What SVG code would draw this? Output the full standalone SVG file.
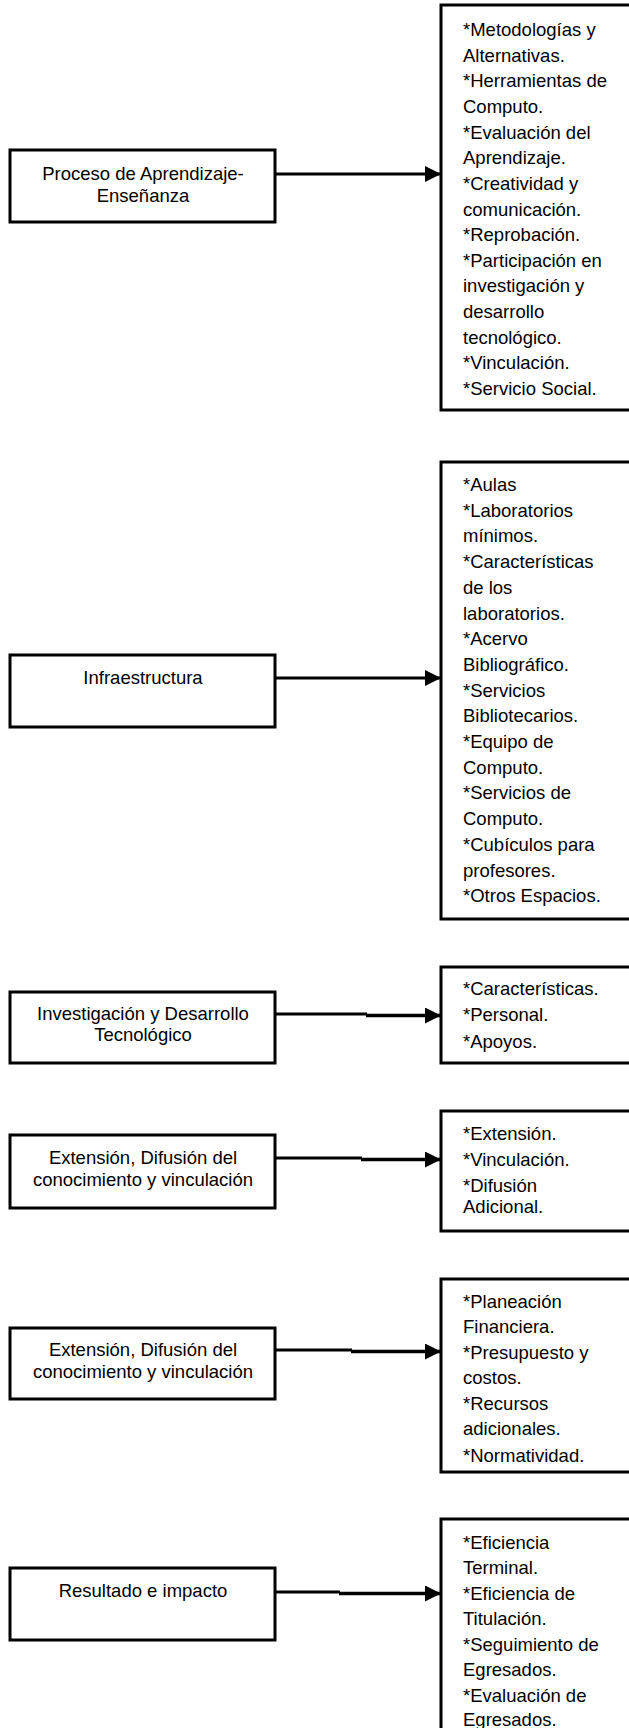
<svg xmlns="http://www.w3.org/2000/svg" width="629" height="1728" viewBox="0 0 629 1728">
<defs>
<style>
.box{fill:#fff;stroke:#000;stroke-width:3}
.t{font-family:"Liberation Sans",Arial,sans-serif;font-size:18.5px;fill:#000}
.c{text-anchor:middle}
.ln{stroke:#000;stroke-width:3;fill:none}
.ln2{stroke:#000;stroke-width:3.5;fill:none}
</style>
<marker id="ah" markerUnits="userSpaceOnUse" markerWidth="16" markerHeight="16" refX="16" refY="8" orient="auto">
<path d="M0,0 L16,8 L0,16 z" fill="#000"/>
</marker>
</defs>
<rect width="629" height="1728" fill="#fff"/>

<g id="connectors">
<line class="ln" x1="275" y1="174" x2="441" y2="174" marker-end="url(#ah)"/>
<line class="ln" x1="275" y1="678" x2="441" y2="678" marker-end="url(#ah)"/>
<line class="ln" x1="275" y1="1014" x2="367" y2="1014"/>
<line class="ln2" x1="366" y1="1015.5" x2="441" y2="1015.5" marker-end="url(#ah)"/>
<line class="ln" x1="275" y1="1158" x2="362" y2="1158"/>
<line class="ln2" x1="361" y1="1159.5" x2="441" y2="1159.5" marker-end="url(#ah)"/>
<line class="ln" x1="275" y1="1350" x2="352" y2="1350"/>
<line class="ln2" x1="351" y1="1351.5" x2="441" y2="1351.5" marker-end="url(#ah)"/>
<line class="ln" x1="275" y1="1592" x2="340" y2="1592"/>
<line class="ln2" x1="339" y1="1593.5" x2="441" y2="1593.5" marker-end="url(#ah)"/>
</g>

<g id="n1">
<rect class="box" x="10" y="150" width="265" height="72"/>
<text class="t c" x="143" y="180">Proceso de Aprendizaje-</text>
<text class="t c" x="143" y="202">Enseñanza</text>
</g>
<g id="r1">
<rect class="box" x="441" y="5" width="200" height="405"/>
<text class="t" x="463" y="36">*Metodologías y</text>
<text class="t" x="463" y="61.6">Alternativas.</text>
<text class="t" x="463" y="87.3">*Herramientas de</text>
<text class="t" x="463" y="112.9">Computo.</text>
<text class="t" x="463" y="138.6">*Evaluación del</text>
<text class="t" x="463" y="164.2">Aprendizaje.</text>
<text class="t" x="463" y="189.8">*Creatividad y</text>
<text class="t" x="463" y="215.5">comunicación.</text>
<text class="t" x="463" y="241.1">*Reprobación.</text>
<text class="t" x="463" y="266.8">*Participación en</text>
<text class="t" x="463" y="292.4">investigación y</text>
<text class="t" x="463" y="318">desarrollo</text>
<text class="t" x="463" y="343.7">tecnológico.</text>
<text class="t" x="463" y="369.3">*Vinculación.</text>
<text class="t" x="463" y="395">*Servicio Social.</text>
</g>

<g id="n2">
<rect class="box" x="10" y="655" width="265" height="72"/>
<text class="t c" x="143" y="684">Infraestructura</text>
</g>
<g id="r2">
<rect class="box" x="441" y="462" width="200" height="457"/>
<text class="t" x="463" y="491">*Aulas</text>
<text class="t" x="463" y="516.7">*Laboratorios</text>
<text class="t" x="463" y="542.4">mínimos.</text>
<text class="t" x="463" y="568.1">*Características</text>
<text class="t" x="463" y="593.8">de los</text>
<text class="t" x="463" y="619.5">laboratorios.</text>
<text class="t" x="463" y="645.2">*Acervo</text>
<text class="t" x="463" y="670.9">Bibliográfico.</text>
<text class="t" x="463" y="696.6">*Servicios</text>
<text class="t" x="463" y="722.3">Bibliotecarios.</text>
<text class="t" x="463" y="748">*Equipo de</text>
<text class="t" x="463" y="773.7">Computo.</text>
<text class="t" x="463" y="799.4">*Servicios de</text>
<text class="t" x="463" y="825.1">Computo.</text>
<text class="t" x="463" y="850.8">*Cubículos para</text>
<text class="t" x="463" y="876.5">profesores.</text>
<text class="t" x="463" y="902">*Otros Espacios.</text>
</g>

<g id="n3">
<rect class="box" x="10" y="992" width="265" height="71"/>
<text class="t c" x="143" y="1019.5">Investigación y Desarrollo</text>
<text class="t c" x="143" y="1041">Tecnológico</text>
</g>
<g id="r3">
<rect class="box" x="441" y="967" width="200" height="96"/>
<text class="t" x="463" y="994.5">*Características.</text>
<text class="t" x="463" y="1021">*Personal.</text>
<text class="t" x="463" y="1047.5">*Apoyos.</text>
</g>

<g id="n4">
<rect class="box" x="10" y="1135" width="265" height="73"/>
<text class="t c" x="143" y="1163.5">Extensión, Difusión del</text>
<text class="t c" x="143" y="1185.5">conocimiento y vinculación</text>
</g>
<g id="r4">
<rect class="box" x="441" y="1111" width="200" height="120"/>
<text class="t" x="463" y="1139.5">*Extensión.</text>
<text class="t" x="463" y="1165.5">*Vinculación.</text>
<text class="t" x="463" y="1191.5">*Difusión</text>
<text class="t" x="463" y="1212.5">Adicional.</text>
</g>

<g id="n5">
<rect class="box" x="10" y="1328" width="265" height="71"/>
<text class="t c" x="143" y="1355.5">Extensión, Difusión del</text>
<text class="t c" x="143" y="1377.5">conocimiento y vinculación</text>
</g>
<g id="r5">
<rect class="box" x="441" y="1279" width="200" height="193"/>
<text class="t" x="463" y="1307.5">*Planeación</text>
<text class="t" x="463" y="1333">Financiera.</text>
<text class="t" x="463" y="1358.5">*Presupuesto y</text>
<text class="t" x="463" y="1384">costos.</text>
<text class="t" x="463" y="1409.5">*Recursos</text>
<text class="t" x="463" y="1435">adicionales.</text>
<text class="t" x="463" y="1462">*Normatividad.</text>
</g>

<g id="n6">
<rect class="box" x="10" y="1568" width="265" height="72"/>
<text class="t c" x="143" y="1596.5">Resultado e impacto</text>
</g>
<g id="r6">
<rect class="box" x="441" y="1519" width="200" height="230"/>
<text class="t" x="463" y="1548.5">*Eficiencia</text>
<text class="t" x="463" y="1574">Terminal.</text>
<text class="t" x="463" y="1599.5">*Eficiencia de</text>
<text class="t" x="463" y="1625">Titulación.</text>
<text class="t" x="463" y="1650.5">*Seguimiento de</text>
<text class="t" x="463" y="1676">Egresados.</text>
<text class="t" x="463" y="1701.5">*Evaluación de</text>
<text class="t" x="463" y="1726">Egresados.</text>
</g>
</svg>
